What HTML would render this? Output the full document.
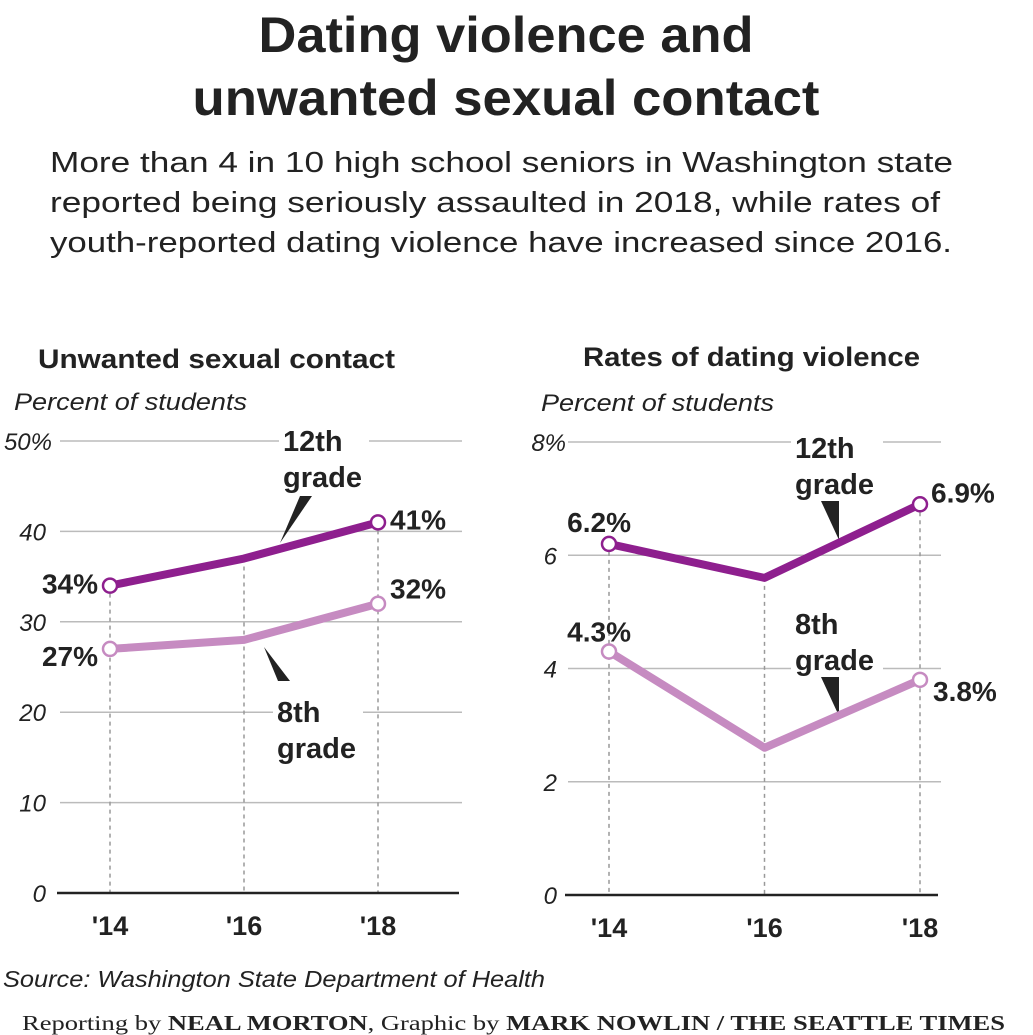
<!DOCTYPE html>
<html><head><meta charset="utf-8"><style>
body{margin:0;background:#fff;}
svg{display:block;font-family:"Liberation Sans",sans-serif;}
</style></head><body>
<svg id="chart" width="1033" height="1035" viewBox="0 0 1033 1035">
<text x="506" y="52" text-anchor="middle" font-size="50" font-weight="bold" fill="#222" textLength="495" lengthAdjust="spacingAndGlyphs">Dating violence and</text>
<text x="506" y="115" text-anchor="middle" font-size="50" font-weight="bold" fill="#222" textLength="627" lengthAdjust="spacingAndGlyphs">unwanted sexual contact</text>
<g font-size="29" fill="#222">
<text x="50" y="172" textLength="903" lengthAdjust="spacingAndGlyphs">More than 4 in 10 high school seniors in Washington state</text>
<text x="50" y="212" textLength="890" lengthAdjust="spacingAndGlyphs">reported being seriously assaulted in 2018, while rates of</text>
<text x="50" y="252" textLength="902" lengthAdjust="spacingAndGlyphs">youth-reported dating violence have increased since 2016.</text>
</g>
<text x="38" y="368" font-size="27" font-weight="bold" fill="#222" textLength="357" lengthAdjust="spacingAndGlyphs">Unwanted sexual contact</text>
<text x="14" y="410" font-size="24" font-style="italic" fill="#222" textLength="233" lengthAdjust="spacingAndGlyphs">Percent of students</text>
<text x="583" y="366" font-size="27" font-weight="bold" fill="#222" textLength="337" lengthAdjust="spacingAndGlyphs">Rates of dating violence</text>
<text x="541" y="411" font-size="24" font-style="italic" fill="#222" textLength="233" lengthAdjust="spacingAndGlyphs">Percent of students</text>
<g id="left"></g>
<g id="right"></g>
<text x="3" y="987" font-size="23" font-style="italic" fill="#222" textLength="542" lengthAdjust="spacingAndGlyphs">Source: Washington State Department of Health</text>
<text x="22" y="1030" font-size="21" fill="#222" font-family="Liberation Serif, serif" textLength="983" lengthAdjust="spacingAndGlyphs">Reporting by <tspan font-weight="bold">NEAL MORTON</tspan>, Graphic by  <tspan font-weight="bold">MARK NOWLIN / THE SEATTLE TIMES</tspan></text>
</svg>
<script>
const years = ["'14","'16","'18"];
const leftTicks = [0,10,20,30,40,50];
const leftTickLabels = ["0","10","20","30","40","50%"];
const left12 = [34,37,41];
const left8 = [27,28,32];
const left12Labels = ["34%",null,"41%"];
const left8Labels = ["27%",null,"32%"];
const rightTicks = [0,2,4,6,8];
const rightTickLabels = ["0","2","4","6","8%"];
const right12 = [6.2,5.6,6.9];
const right8 = [4.3,2.6,3.8];
const right12Labels = ["6.2%",null,"6.9%"];
const right8Labels = ["4.3%",null,"3.8%"];

const NS="http://www.w3.org/2000/svg";
const C12="#8e1f8e", C8="#c68bc1";
function mk(p,tag,a,txt){const e=document.createElementNS(NS,tag);for(const k in a)e.setAttribute(k,a[k]);if(txt!=null)e.textContent=txt;p.appendChild(e);return e;}

function draw(g,cfg){
  const x=i=>cfg.x0+i*cfg.dx;
  const y=v=>cfg.y0-(v/cfg.max)*(cfg.y0-cfg.yTop);
  cfg.ticks.forEach((t,i)=>{
    if(t!==0){const l=mk(g,'line',{x1:cfg.gx1,x2:cfg.gx2,y1:y(t),y2:y(t),stroke:'#bbb','stroke-width':1.5});
    
    }
    const lab=cfg.tickLabels[i];
    const pct=lab.endsWith('%');
    const tl=mk(g,'text',{x:pct?cfg.tx+cfg.pctShift:cfg.tx,y:y(t)+9,'font-size':24,'font-style':'italic',fill:'#222','text-anchor':'end'},lab);
    
    
  });
  years.forEach((yr,i)=>{
    const l=mk(g,'line',{x1:x(i),x2:x(i),y1:y(Math.max(cfg.s12[i],cfg.s8[i])),y2:cfg.y0,stroke:'#999','stroke-width':1.5,'stroke-dasharray':'4,4'});
    
    
    const t=mk(g,'text',{x:x(i),y:cfg.y0+42,'font-size':27,'font-weight':'bold',fill:'#222','text-anchor':'middle'},yr);
    
    
  });
  const ax=mk(g,'line',{x1:cfg.gx1-3,x2:cfg.gx2-3,y1:cfg.y0,y2:cfg.y0,stroke:'#222','stroke-width':2.5});
  
  
  cfg.ann.forEach(a=>{
    const r=mk(g,'rect',{x:a.x-4,y:a.y-30,width:a.w,height:78,fill:'#fff'});
    
    
    const t1=mk(g,'text',{x:a.x,y:a.y,'font-size':29,'font-weight':'bold',fill:'#222'},a.t1);
    
    
    const t2=mk(g,'text',{x:a.x,y:a.y+36,'font-size':29,'font-weight':'bold',fill:'#222'},'grade');
    
    
    const p=mk(g,'polygon',{points:a.tri,fill:'#222'});
    
    
  });
  [[cfg.s8,C8,cfg.l8,'series-8th-grade'],[cfg.s12,C12,cfg.l12,'series-12th-grade']].forEach(([s,c,labs,nm])=>{
    const pl=mk(g,'polyline',{points:s.map((v,i)=>x(i)+','+y(v)).join(' '),fill:'none',stroke:c,'stroke-width':8,'stroke-linejoin':'round'});
    
    
    s.forEach((v,i)=>{
      if(labs[i]==null)return;
      const ci=mk(g,'circle',{cx:x(i),cy:y(v),r:7,fill:'#fff',stroke:c,'stroke-width':2.5});
      
      
      const o=cfg.labOff(i,nm);
      const t=mk(g,'text',{x:x(i)+o[0],y:y(v)+o[1],'font-size':28,'font-weight':'bold',fill:'#222','text-anchor':i===0?'end':'start'},labs[i]);
      
      
    });
  });
}
draw(document.getElementById('left'),{x0:110,dx:134,y0:893,yTop:441,max:50,gx1:60,gx2:462,tx:46,pctShift:6,ticks:leftTicks,tickLabels:leftTickLabels,
  s12:left12,s8:left8,l12:left12Labels,l8:left8Labels,
  labOff:(i,nm)=>i===0?[-12,nm.includes('12')?8:17]:[12,nm.includes('12')?7:-5],
  ann:[{x:283,y:451,w:90,t1:'12th',tri:'300,496 312,496 280,543'},{x:277,y:722,w:90,t1:'8th',tri:'264,647 278,681 290,681'}]});
draw(document.getElementById('right'),{x0:609,dx:155.5,y0:895,yTop:442,max:8,gx1:568,gx2:941,tx:557,pctShift:9,ticks:rightTicks,tickLabels:rightTickLabels,
  s12:right12,s8:right8,l12:right12Labels,l8:right8Labels,
  labOff:(i,nm)=>i===0?[22,nm.includes('12')?-12:-10]:[nm.includes('12')?11:13,nm.includes('12')?-2:21],
  ann:[{x:795,y:458,w:92,t1:'12th',tri:'821,501 839,501 839,540'},{x:795,y:634,w:92,t1:'8th',tri:'821,677 839,677 839,716'}]});
</script>
</body></html>
